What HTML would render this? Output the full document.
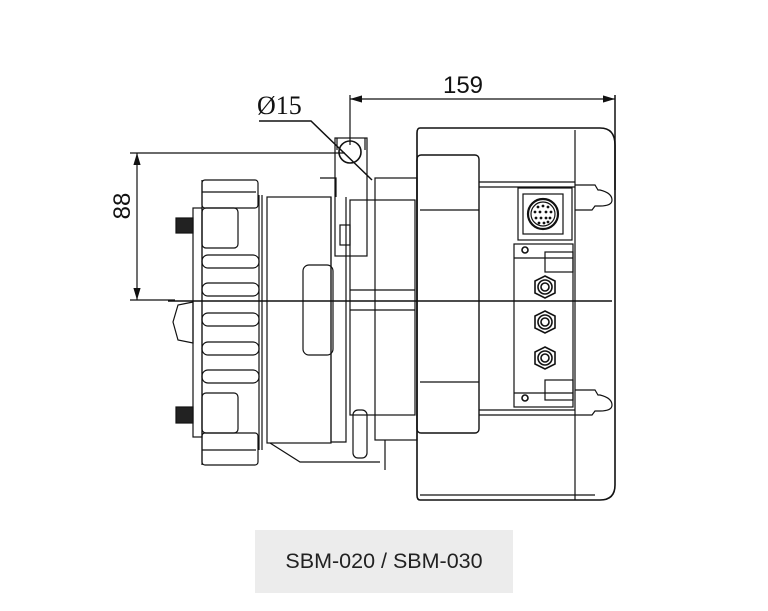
<!DOCTYPE html>
<html><head><meta charset="utf-8"><style>
html,body{margin:0;padding:0;background:#fff;width:768px;height:611px;overflow:hidden}
svg{display:block}
</style></head><body>
<svg width="768" height="611" viewBox="0 0 768 611" xmlns="http://www.w3.org/2000/svg">
<defs>
<marker id="a" viewBox="0 0 10 6" refX="10" refY="3" markerWidth="10" markerHeight="6" orient="auto-start-reverse"><path d="M0,0 L10,3 L0,6 z" fill="#111"/></marker>
</defs>
<g stroke="#111" fill="none" stroke-width="1.2">
<line x1="350" y1="99" x2="615" y2="99" marker-start="url(#a)" marker-end="url(#a)"/>
<line x1="350" y1="95" x2="350" y2="145"/>
<line x1="615" y1="95" x2="615" y2="190" stroke-width="1.5"/>
<line x1="137" y1="153" x2="137" y2="300" marker-start="url(#a)" marker-end="url(#a)"/>
<line x1="130" y1="153" x2="345" y2="153"/>
<line x1="130" y1="300" x2="175" y2="300"/>
<polyline points="259,121 311,121 372,180" stroke-width="1.5"/>
<circle cx="350" cy="152" r="11" stroke-width="1.6"/>
<line x1="168" y1="301" x2="612" y2="301" stroke-width="1.4"/>

<rect x="193" y="208" width="9" height="229"/>
<rect x="176" y="218" width="17" height="15" fill="#222"/>
<rect x="176" y="407" width="17" height="16" fill="#222"/>
<path d="M193,302 L178,305 L173,322 L178,340 L193,343 Z"/>
<rect x="202" y="180" width="56" height="28" rx="3"/>
<line x1="202" y1="192" x2="256" y2="192"/>
<rect x="202" y="433" width="56" height="32" rx="3"/>
<line x1="202" y1="450" x2="256" y2="450"/>
<rect x="202" y="208" width="36" height="40" rx="4"/>
<rect x="202" y="393" width="36" height="40" rx="4"/>
<rect x="202" y="255" width="57" height="13" rx="6"/>
<rect x="202" y="283" width="57" height="13" rx="6"/>
<rect x="202" y="313" width="57" height="13" rx="6"/>
<rect x="202" y="342" width="57" height="13" rx="6"/>
<rect x="202" y="370" width="57" height="13" rx="6"/>
<line x1="202" y1="180" x2="202" y2="465"/>
<line x1="259" y1="195" x2="259" y2="450"/>
<line x1="262" y1="195" x2="262" y2="450"/>
<rect x="267" y="197" width="64" height="246"/>
<rect x="303" y="265" width="30" height="90" rx="6"/>
<path d="M331,197 L331,442 L346,442 L346,197"/>
<path d="M320,178 L336,178 L336,197"/>
<path d="M270,443 L300,462 L380,462"/>
<rect x="335" y="138" width="32" height="118"/>
<line x1="337" y1="138" x2="337" y2="150"/>
<line x1="365" y1="138" x2="365" y2="150"/>
<rect x="340" y="225" width="10" height="20"/>
<rect x="350" y="200" width="65" height="215"/>
<rect x="375" y="178" width="42" height="262"/>
<line x1="350" y1="290" x2="415" y2="290"/>
<line x1="350" y1="310" x2="415" y2="310"/>
<rect x="353" y="410" width="14" height="48" rx="5"/>
<line x1="385" y1="440" x2="385" y2="470"/>

<path d="M420,128 L600,128 Q615,128 615,145 L615,485 Q615,500 600,500 L420,500 Q417,500 417,495 L417,133 Q417,128 420,128 Z" stroke-width="1.6"/>
<line x1="575" y1="130" x2="575" y2="500"/>
<line x1="420" y1="495" x2="595" y2="495"/>
<rect x="417" y="155" width="62" height="278" rx="4" stroke-width="1.4"/>
<line x1="420" y1="210" x2="479" y2="210"/>
<line x1="420" y1="382" x2="479" y2="382"/>
<line x1="479" y1="182" x2="575" y2="182"/>
<line x1="479" y1="187" x2="575" y2="187"/>
<line x1="479" y1="410" x2="575" y2="410"/>
<line x1="479" y1="415" x2="575" y2="415"/>
<rect x="518" y="188" width="54" height="52"/>
<rect x="523" y="194" width="40" height="40"/>
<circle cx="543" cy="214" r="15" stroke-width="2.2"/>
<circle cx="543" cy="214" r="12"/>
<g fill="#111" stroke="none">
<circle cx="538" cy="207" r="1.4"/><circle cx="543" cy="206" r="1.4"/><circle cx="548" cy="207" r="1.4"/>
<circle cx="535" cy="212" r="1.4"/><circle cx="540" cy="212" r="1.4"/><circle cx="546" cy="212" r="1.4"/><circle cx="551" cy="212" r="1.4"/>
<circle cx="536" cy="218" r="1.4"/><circle cx="541" cy="218" r="1.4"/><circle cx="546" cy="218" r="1.4"/><circle cx="550" cy="218" r="1.4"/>
<circle cx="539" cy="223" r="1.4"/><circle cx="544" cy="223" r="1.4"/><circle cx="548" cy="222" r="1.4"/>
</g>
<rect x="514" y="244" width="59" height="163"/>
<line x1="514" y1="258" x2="573" y2="258"/>
<line x1="514" y1="393" x2="573" y2="393"/>
<rect x="545" y="252" width="28" height="20"/>
<rect x="545" y="380" width="28" height="20"/>
<circle cx="525" cy="250" r="3" stroke-width="1.6"/><circle cx="525" cy="398" r="3" stroke-width="1.6"/>
<g stroke-width="1.6">
<polygon points="545,276 555,281 555,293 545,298 535,293 535,281"/><circle cx="545" cy="287" r="7"/><circle cx="545" cy="287" r="4"/>
<polygon points="545,311 555,316 555,328 545,333 535,328 535,316"/><circle cx="545" cy="322" r="7"/><circle cx="545" cy="322" r="4"/>
<polygon points="545,347 555,352 555,364 545,369 535,364 535,352"/><circle cx="545" cy="358" r="7"/><circle cx="545" cy="358" r="4"/>
</g>
<path d="M575,185 L595,185 L598,190 L600,190 Q612,193 612,200 Q612,206 600,206 L595,206 L592,210 L575,210"/>
<path d="M575,390 L595,390 L598,395 L600,395 Q612,398 612,405 Q612,411 600,411 L595,411 L592,415 L575,415"/>
</g>
<text x="257" y="114" font-family="'Liberation Serif',serif" font-size="26" fill="#111">Ø15</text>
<g font-family="'Liberation Sans',sans-serif" fill="#111">
<text x="463" y="93" font-size="24" text-anchor="middle">159</text>
<text transform="translate(130,206) rotate(-90)" font-size="24" text-anchor="middle">88</text>
</g>
<rect x="255" y="530" width="258" height="63" fill="#ececec"/>
<text x="384" y="568" font-family="'Liberation Sans',sans-serif" font-size="21.5" fill="#222" text-anchor="middle">SBM-020 / SBM-030</text>
</svg>
</body></html>
